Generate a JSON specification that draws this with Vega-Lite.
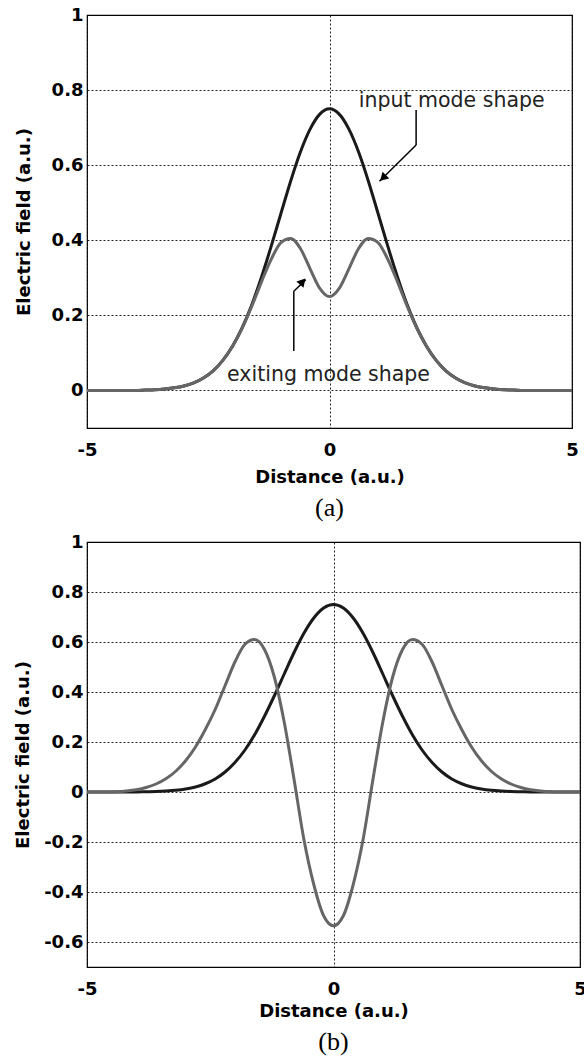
{
  "$schema": "https://vega.github.io/schema/vega-lite/v6.json",
  "background": "white",
  "padding": {"left": 13, "top": 5, "right": 0, "bottom": 0},
  "spacing": 10,
  "config": {
    "view": {"stroke": "#000", "strokeWidth": 1.2},
    "axis": {
      "labelFont": "DejaVu Sans", "labelFontWeight": "bold", "labelFontSize": 18, "labelColor": "#000",
      "titleFont": "DejaVu Sans", "titleFontWeight": "bold", "titleFontSize": 18, "titleColor": "#000",
      "ticks": false, "tickSize": 0, "domain": false, "grid": true,
      "gridColor": "#000", "gridDash": [2, 2], "gridOpacity": 0.85, "gridWidth": 1,
      "labelFlush": false, "labelOverlap": false
    },
    "title": {"font": "Liberation Serif", "fontSize": 26, "fontWeight": "normal", "orient": "bottom", "anchor": "middle", "color": "#000", "offset": 9}
  },
  "datasets": {
    "a": [
      {"x": -5, "input": 0, "exiting": 0}, {"x": -4.8, "input": 0, "exiting": 0}, {"x": -4.6, "input": 0, "exiting": 0},
      {"x": -4.4, "input": 0, "exiting": 0}, {"x": -4.2, "input": 0, "exiting": 0}, {"x": -4, "input": 0, "exiting": 0},
      {"x": -3.8, "input": 0.001, "exiting": 0.001}, {"x": -3.6, "input": 0.002, "exiting": 0.002},
      {"x": -3.4, "input": 0.004, "exiting": 0.004}, {"x": -3.2, "input": 0.007, "exiting": 0.007},
      {"x": -3, "input": 0.012, "exiting": 0.012}, {"x": -2.8, "input": 0.02, "exiting": 0.02},
      {"x": -2.6, "input": 0.033, "exiting": 0.033}, {"x": -2.4, "input": 0.052, "exiting": 0.052},
      {"x": -2.2, "input": 0.08, "exiting": 0.08}, {"x": -2, "input": 0.118, "exiting": 0.118},
      {"x": -1.8, "input": 0.167, "exiting": 0.166}, {"x": -1.6, "input": 0.229, "exiting": 0.225},
      {"x": -1.4, "input": 0.303, "exiting": 0.29}, {"x": -1.2, "input": 0.385, "exiting": 0.35},
      {"x": -1, "input": 0.472, "exiting": 0.394}, {"x": -0.8, "input": 0.558, "exiting": 0.405},
      {"x": -0.6, "input": 0.635, "exiting": 0.378}, {"x": -0.4, "input": 0.696, "exiting": 0.324},
      {"x": -0.2, "input": 0.736, "exiting": 0.272}, {"x": 0, "input": 0.75, "exiting": 0.25},
      {"x": 0.2, "input": 0.736, "exiting": 0.272}, {"x": 0.4, "input": 0.696, "exiting": 0.324},
      {"x": 0.6, "input": 0.635, "exiting": 0.378}, {"x": 0.8, "input": 0.558, "exiting": 0.405},
      {"x": 1, "input": 0.472, "exiting": 0.394}, {"x": 1.2, "input": 0.385, "exiting": 0.35},
      {"x": 1.4, "input": 0.303, "exiting": 0.29}, {"x": 1.6, "input": 0.229, "exiting": 0.225},
      {"x": 1.8, "input": 0.167, "exiting": 0.166}, {"x": 2, "input": 0.118, "exiting": 0.118},
      {"x": 2.2, "input": 0.08, "exiting": 0.08}, {"x": 2.4, "input": 0.052, "exiting": 0.052},
      {"x": 2.6, "input": 0.033, "exiting": 0.033}, {"x": 2.8, "input": 0.02, "exiting": 0.02},
      {"x": 3, "input": 0.012, "exiting": 0.012}, {"x": 3.2, "input": 0.007, "exiting": 0.007},
      {"x": 3.4, "input": 0.004, "exiting": 0.004}, {"x": 3.6, "input": 0.002, "exiting": 0.002},
      {"x": 3.8, "input": 0.001, "exiting": 0.001}, {"x": 4, "input": 0, "exiting": 0},
      {"x": 4.2, "input": 0, "exiting": 0}, {"x": 4.4, "input": 0, "exiting": 0},
      {"x": 4.6, "input": 0, "exiting": 0}, {"x": 4.8, "input": 0, "exiting": 0}, {"x": 5, "input": 0, "exiting": 0}
    ],
    "b": [
      {"x": -5, "input": 0, "exiting": 0}, {"x": -4.8, "input": 0, "exiting": 0}, {"x": -4.6, "input": 0, "exiting": 0},
      {"x": -4.4, "input": 0, "exiting": 0.001}, {"x": -4.2, "input": 0, "exiting": 0.004}, {"x": -4, "input": 0, "exiting": 0.009},
      {"x": -3.8, "input": 0.001, "exiting": 0.018}, {"x": -3.6, "input": 0.002, "exiting": 0.032},
      {"x": -3.4, "input": 0.004, "exiting": 0.053}, {"x": -3.2, "input": 0.007, "exiting": 0.083},
      {"x": -3, "input": 0.012, "exiting": 0.125}, {"x": -2.8, "input": 0.02, "exiting": 0.18},
      {"x": -2.6, "input": 0.033, "exiting": 0.25}, {"x": -2.4, "input": 0.052, "exiting": 0.33},
      {"x": -2.2, "input": 0.08, "exiting": 0.425}, {"x": -2, "input": 0.118, "exiting": 0.52},
      {"x": -1.8, "input": 0.167, "exiting": 0.59}, {"x": -1.6, "input": 0.229, "exiting": 0.61},
      {"x": -1.4, "input": 0.303, "exiting": 0.57}, {"x": -1.2, "input": 0.385, "exiting": 0.46},
      {"x": -1, "input": 0.472, "exiting": 0.28}, {"x": -0.8, "input": 0.558, "exiting": 0.05},
      {"x": -0.6, "input": 0.635, "exiting": -0.19}, {"x": -0.4, "input": 0.696, "exiting": -0.37},
      {"x": -0.2, "input": 0.736, "exiting": -0.495}, {"x": 0, "input": 0.75, "exiting": -0.535},
      {"x": 0.2, "input": 0.736, "exiting": -0.495}, {"x": 0.4, "input": 0.696, "exiting": -0.37},
      {"x": 0.6, "input": 0.635, "exiting": -0.19}, {"x": 0.8, "input": 0.558, "exiting": 0.05},
      {"x": 1, "input": 0.472, "exiting": 0.28}, {"x": 1.2, "input": 0.385, "exiting": 0.46},
      {"x": 1.4, "input": 0.303, "exiting": 0.57}, {"x": 1.6, "input": 0.229, "exiting": 0.61},
      {"x": 1.8, "input": 0.167, "exiting": 0.59}, {"x": 2, "input": 0.118, "exiting": 0.52},
      {"x": 2.2, "input": 0.08, "exiting": 0.425}, {"x": 2.4, "input": 0.052, "exiting": 0.33},
      {"x": 2.6, "input": 0.033, "exiting": 0.25}, {"x": 2.8, "input": 0.02, "exiting": 0.18},
      {"x": 3, "input": 0.012, "exiting": 0.125}, {"x": 3.2, "input": 0.007, "exiting": 0.083},
      {"x": 3.4, "input": 0.004, "exiting": 0.053}, {"x": 3.6, "input": 0.002, "exiting": 0.032},
      {"x": 3.8, "input": 0.001, "exiting": 0.018}, {"x": 4, "input": 0, "exiting": 0.009},
      {"x": 4.2, "input": 0, "exiting": 0.004}, {"x": 4.4, "input": 0, "exiting": 0.001},
      {"x": 4.6, "input": 0, "exiting": 0}, {"x": 4.8, "input": 0, "exiting": 0}, {"x": 5, "input": 0, "exiting": 0}
    ],
    "arrows": [
      {"x": 1.786, "y": 0.747, "x2": 1.786, "y2": 0.654},
      {"x": 1.786, "y": 0.654, "x2": 1.03, "y2": 0.557},
      {"x": -0.736, "y": 0.105, "x2": -0.736, "y2": 0.264},
      {"x": -0.736, "y": 0.264, "x2": -0.49, "y2": 0.295}
    ],
    "labels": [
      {"label": "input mode shape", "x": 2.52, "y": 0.756},
      {"label": "exiting mode shape", "x": -0.02, "y": 0.025}
    ]
  },
  "vconcat": [
    {
      "width": 485,
      "height": 413,
      "title": {"text": "(a)"},
      "layer": [
        {
          "data": {"name": "a"},
          "mark": {"type": "line", "color": "#1a1a1a", "strokeWidth": 3, "interpolate": "monotone"},
          "encoding": {
            "x": {"field": "x", "type": "quantitative", "title": "Distance (a.u.)",
                  "scale": {"domain": [-5, 5], "nice": false, "zero": false},
                  "axis": {"values": [-5, 0, 5], "labelPadding": 13, "titlePadding": 9,
                           "labelExpr": "replace(format(datum.value, '~g'), '−', '-')"}},
            "y": {"field": "input", "type": "quantitative", "title": "Electric field (a.u.)",
                  "scale": {"domain": [-0.1, 1], "nice": false, "zero": false},
                  "axis": {"values": [0, 0.2, 0.4, 0.6, 0.8, 1], "labelPadding": 4,
                           "titleX": -63, "titleY": 206.5, "titleBaseline": "middle", "titleAngle": 270,
                           "labelExpr": "replace(format(datum.value, '~g'), '−', '-')"}}
          }
        },
        {
          "data": {"name": "a"},
          "mark": {"type": "line", "color": "#666666", "strokeWidth": 3, "interpolate": "monotone"},
          "encoding": {
            "x": {"field": "x", "type": "quantitative", "title": "Distance (a.u.)"},
            "y": {"field": "exiting", "type": "quantitative", "title": "Electric field (a.u.)"}
          }
        },
        {
          "data": {"name": "arrows"},
          "mark": {"type": "rule", "color": "#000", "strokeWidth": 1.5},
          "encoding": {
            "x": {"field": "x", "type": "quantitative"},
            "y": {"field": "y", "type": "quantitative"},
            "x2": {"field": "x2"},
            "y2": {"field": "y2"}
          }
        },
        {
          "data": {"values": [{"x": 1.103, "y": 0.566}]},
          "mark": {"type": "point", "shape": "triangle-up", "filled": true, "color": "#000", "opacity": 1, "size": 90, "angle": 225},
          "encoding": {
            "x": {"field": "x", "type": "quantitative"},
            "y": {"field": "y", "type": "quantitative"}
          }
        },
        {
          "data": {"values": [{"x": -0.553, "y": 0.29}]},
          "mark": {"type": "point", "shape": "triangle-up", "filled": true, "color": "#000", "opacity": 1, "size": 90, "angle": 42},
          "encoding": {
            "x": {"field": "x", "type": "quantitative"},
            "y": {"field": "y", "type": "quantitative"}
          }
        },
        {
          "data": {"name": "labels"},
          "mark": {"type": "text", "font": "DejaVu Sans", "fontSize": 20.5, "color": "#222", "baseline": "alphabetic", "align": "center"},
          "encoding": {
            "x": {"field": "x", "type": "quantitative"},
            "y": {"field": "y", "type": "quantitative"},
            "text": {"field": "label"}
          }
        }
      ]
    },
    {
      "width": 493,
      "height": 425,
      "title": {"text": "(b)"},
      "layer": [
        {
          "data": {"name": "b"},
          "mark": {"type": "line", "color": "#1a1a1a", "strokeWidth": 3, "interpolate": "monotone"},
          "encoding": {
            "x": {"field": "x", "type": "quantitative", "title": "Distance (a.u.)",
                  "scale": {"domain": [-5, 5], "nice": false, "zero": false},
                  "axis": {"values": [-5, 0, 5], "labelPadding": 13, "titlePadding": 4,
                           "labelExpr": "replace(format(datum.value, '~g'), '−', '-')"}},
            "y": {"field": "input", "type": "quantitative", "title": "Electric field (a.u.)",
                  "scale": {"domain": [-0.7, 1], "nice": false, "zero": false},
                  "axis": {"values": [-0.6, -0.4, -0.2, 0, 0.2, 0.4, 0.6, 0.8, 1], "labelPadding": 4,
                           "titleX": -64, "titleY": 212.5, "titleBaseline": "middle", "titleAngle": 270,
                           "labelExpr": "replace(format(datum.value, '~g'), '−', '-')"}}
          }
        },
        {
          "data": {"name": "b"},
          "mark": {"type": "line", "color": "#666666", "strokeWidth": 3, "interpolate": "monotone"},
          "encoding": {
            "x": {"field": "x", "type": "quantitative", "title": "Distance (a.u.)"},
            "y": {"field": "exiting", "type": "quantitative", "title": "Electric field (a.u.)"}
          }
        }
      ]
    }
  ]
}
